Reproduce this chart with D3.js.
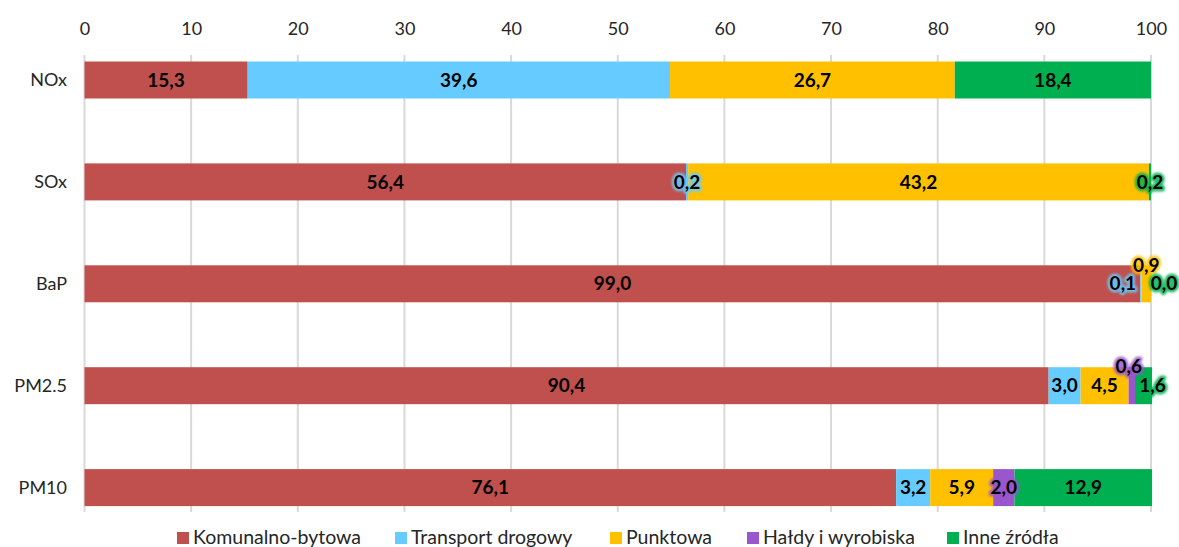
<!DOCTYPE html>
<html>
<head>
<meta charset="utf-8">
<script src="https://cdn.jsdelivr.net/npm/d3@7"></script>
<style>
  html, body { margin: 0; padding: 0; background: #fff; overflow: hidden; }
  svg { display: block; font-family: Lato, "Open Sans", sans-serif; }
</style>
</head>
<body>
<svg id="chart" width="1179" height="547"></svg>
<script>
const categories = ["NOx", "SOx", "BaP", "PM2.5", "PM10"];
const seriesNames = ["Komunalno-bytowa", "Transport drogowy", "Punktowa", "Hałdy i wyrobiska", "Inne źródła"];
const komunalno = [15.3, 56.4, 99.0, 90.4, 76.1];
const transport = [39.6, 0.2, 0.1, 3.0, 3.2];
const punktowa  = [26.7, 43.2, 0.9, 4.5, 5.9];
const haldy     = [0.0, 0.0, 0.0, 0.6, 2.0];
const inne      = [18.4, 0.2, 0.0, 1.6, 12.9];
const xTicks = [0, 10, 20, 30, 40, 50, 60, 70, 80, 90, 100];

const colors = ["#C0504D", "#66CCFF", "#FFC000", "#9A57CD", "#00B050"];
const seriesValues = [komunalno, transport, punktowa, haldy, inne];

// label nudges (style only): key "catIndex-seriesIndex" -> [dx, dy]
const nudges = {
  "2-1": [-18, 0], "2-2": [0, -18], "2-4": [13, 0],
  "3-3": [-3, -19], "3-4": [9, 0]
};
const showZero = { "2-4": true };

const svg = d3.select("#chart");
const x = d3.scaleLinear().domain([0, 100]).range([84.5, 1151]);
const y = d3.scaleBand().domain(categories).range([29.05, 538.55])
  .paddingInner(0.637).paddingOuter(0.3185);

// gridlines
svg.append("g").selectAll("line").data(xTicks).join("line")
  .attr("x1", d => x(d)).attr("x2", d => x(d))
  .attr("y1", 55).attr("y2", 512)
  .attr("stroke", "#D9D9D9").attr("stroke-width", 2);

// top axis labels
const axis = svg.append("g").attr("transform", "translate(0,35)")
  .call(d3.axisTop(x).tickValues(xTicks).tickSize(0).tickPadding(0).tickFormat(d3.format("d")));
axis.select(".domain").remove();
axis.selectAll("text").attr("font-size", 18).attr("font-family", "Lato, sans-serif").attr("fill", "#262626");

// category labels
svg.append("g").selectAll("text").data(categories).join("text")
  .attr("x", 67).attr("y", d => y(d) + y.bandwidth() / 2)
  .attr("dy", "0.35em").attr("text-anchor", "end")
  .attr("font-size", 18).attr("fill", "#262626").text(d => d);

const rows = categories.map((c, i) => {
  const o = { cat: c };
  seriesNames.forEach((s, j) => o[s] = seriesValues[j][i]);
  return o;
});
const stacked = d3.stack().keys(seriesNames)(rows);

const defs = svg.append("defs");
const f = defs.append("filter").attr("id", "glow").attr("x", "-30%").attr("y", "-50%").attr("width", "160%").attr("height", "200%");
f.append("feGaussianBlur").attr("stdDeviation", 1.2);

const barG = svg.append("g");
stacked.forEach((layer, j) => {
  barG.append("g").attr("fill", colors[j]).selectAll("rect").data(layer).join("rect")
    .attr("x", d => x(d[0]))
    .attr("width", d => Math.max(0, x(d[1]) - x(d[0])))
    .attr("y", d => y(d.data.cat))
    .attr("height", y.bandwidth());
});

const fmt = v => v.toFixed(1).replace(".", ",");
const labG = svg.append("g");
stacked.forEach((layer, j) => {
  layer.forEach((d, i) => {
    const v = seriesValues[j][i];
    const key = i + "-" + j;
    if (v === 0 && !showZero[key]) return;
    const nd = nudges[key] || [0, 0];
    const cx = (x(d[0]) + x(d[1])) / 2 + nd[0];
    const cy = y(d.data.cat) + y.bandwidth() / 2 + nd[1];
    const glow = v <= 2.0;
    if (glow) {
      labG.append("text").attr("x", cx).attr("y", cy).attr("dy", "0.35em")
        .attr("text-anchor", "middle").attr("font-size", 19).attr("font-weight", "bold")
        .attr("fill", colors[j]).attr("stroke", colors[j]).attr("stroke-width", 5)
        .attr("stroke-linejoin", "round").attr("opacity", 0.85)
        .attr("filter", "url(#glow)").text(fmt(v));
    }
    labG.append("text").attr("x", cx).attr("y", cy).attr("dy", "0.35em")
      .attr("text-anchor", "middle").attr("font-size", 19).attr("font-weight", "bold")
      .attr("fill", "#000").text(fmt(v));
  });
});

// legend
const legendX = [177, 395, 610, 747, 947];
const lg = svg.append("g");
seriesNames.forEach((s, j) => {
  lg.append("rect").attr("x", legendX[j]).attr("y", 532).attr("width", 12).attr("height", 12).attr("fill", colors[j]);
  lg.append("text").attr("x", legendX[j] + 16).attr("y", 544).attr("font-size", 19.5)
    .attr("fill", "#262626").text(s);
});
</script>
</body>
</html>
